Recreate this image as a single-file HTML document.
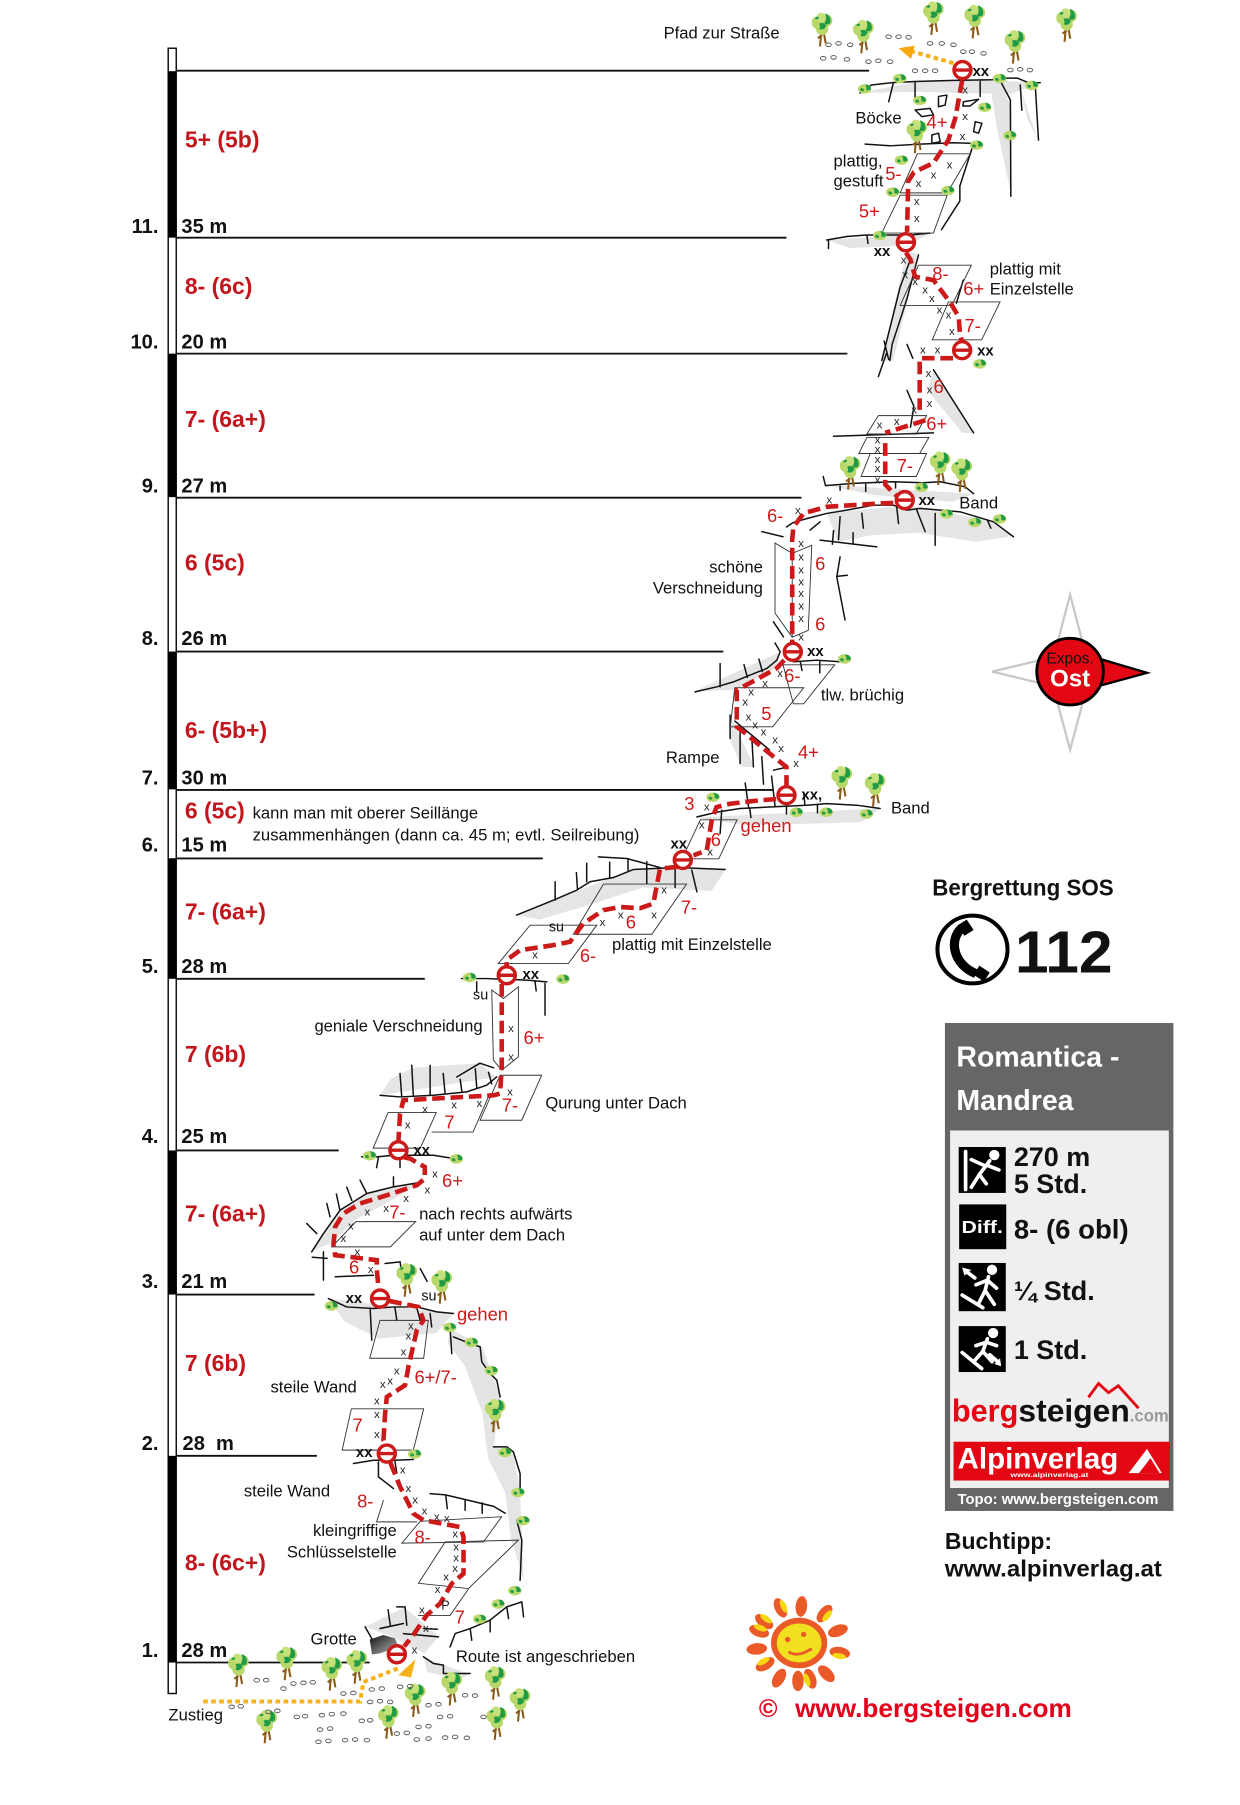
<!DOCTYPE html>
<html><head><meta charset="utf-8"><style>html,body{margin:0;padding:0;background:#fff;width:1240px;height:1805px;overflow:hidden}svg{display:block}</style></head>
<body>
<svg width="1240" height="1805" viewBox="0 0 1080 1572.1" preserveAspectRatio="none" xmlns="http://www.w3.org/2000/svg" font-family="Liberation Sans, Arial, sans-serif">
<defs>
<symbol id="tr" viewBox="0 0 20 34">
<path d="M9.5 16 L8 33 M11 16 L13.5 30 M10 22 L6 25" stroke="#8a5a1a" stroke-width="2" fill="none"/>
<circle cx="6" cy="10" r="6.2" fill="#b9d86a"/><circle cx="14" cy="8" r="6" fill="#b9d86a"/><circle cx="10" cy="16" r="6" fill="#b9d86a"/><circle cx="9" cy="5" r="4.5" fill="#c6e07a"/>
<path d="M13 1 q6 2 5 9 q-2 3 -6 1 q3 -4 1 -10z" fill="#1f9a45"/><path d="M7 11 q5 -2 7 2 q-2 5 -7 3 q2 -2 0 -5z" fill="#1f9a45"/><path d="M3 6 q2 -3 4 -1 q-1 3 -4 1z" fill="#1f9a45"/>
</symbol>
<symbol id="bu" viewBox="0 0 16 12">
<ellipse cx="7.5" cy="6.5" rx="7" ry="5" fill="#b9d86a"/><path d="M8 2 q6 0 6 5 q-3 2 -5 0 q1 -2 -1 -5z" fill="#1f9a45"/><path d="M3 6 q3 -1 4 2 q-2 2 -4 0z" fill="#1f9a45"/>
</symbol>
<symbol id="bel" viewBox="-10 -10 20 20"><circle r="7.4" fill="#fff" stroke="#cc1a1a" stroke-width="3"/><line x1="-7.4" x2="7.4" y1="0" y2="0" stroke="#cc1a1a" stroke-width="3"/></symbol>
<linearGradient id="cave" x1="0" y1="0" x2="1" y2="1"><stop offset="0" stop-color="#111"/><stop offset="1" stop-color="#bbb"/></linearGradient>
</defs>
<style>
.k{stroke:#111;stroke-width:1.3;fill:none;stroke-linejoin:round;stroke-linecap:round}
.p{stroke:#333;stroke-width:0.8;fill:none}
.rt{stroke:#cc1a1a;stroke-width:4;fill:none;stroke-dasharray:11 5}
.sh{fill:#dcdcdc;opacity:.75}
.pb{fill:none;stroke:#555;stroke-width:0.8}
.x{font-size:10px;fill:#222;text-anchor:middle}
.g{font-size:16px;fill:#cc1a1a}
.t{font-size:14.5px;fill:#111}
.xx{font-size:13px;font-weight:bold;fill:#111}
</style>

<!-- pillar -->
<rect x="146.5" y="42" width="7" height="1433" fill="#fff" stroke="#000" stroke-width="1.2"/>
<g fill="#000">
<rect x="146.5" y="62" width="7" height="145"/><rect x="146.5" y="308" width="7" height="125"/><rect x="146.5" y="567.5" width="7" height="120"/><rect x="146.5" y="747.5" width="7" height="105"/><rect x="146.5" y="1002" width="7" height="125.5"/><rect x="146.5" y="1268" width="7" height="180"/>
</g>
<g stroke="#111" stroke-width="1.6">
<line x1="153" y1="61.6" x2="757" y2="61.6"/><line x1="153" y1="207" x2="685" y2="207"/><line x1="153" y1="308" x2="738" y2="308"/><line x1="153" y1="433.5" x2="698" y2="433.5"/><line x1="153" y1="567.5" x2="630" y2="567.5"/><line x1="153" y1="688" x2="674" y2="688"/><line x1="153" y1="747.7" x2="472.7" y2="747.7"/><line x1="153" y1="852.5" x2="370" y2="852.5"/><line x1="153" y1="1002" x2="295" y2="1002"/><line x1="153" y1="1127.5" x2="274" y2="1127.5"/><line x1="153" y1="1268" x2="276" y2="1268"/><line x1="153" y1="1448" x2="322" y2="1448"/>
</g>
<g font-weight="bold" font-size="17.5" fill="#111">
<text x="138" y="203" text-anchor="end">11.</text><text x="158" y="203">35 m</text>
<text x="138" y="303.5" text-anchor="end">10.</text><text x="158" y="303.5">20 m</text>
<text x="138" y="429" text-anchor="end">9.</text><text x="158" y="429">27 m</text>
<text x="138" y="562" text-anchor="end">8.</text><text x="158" y="562">26 m</text>
<text x="138" y="683.5" text-anchor="end">7.</text><text x="158" y="683.5">30 m</text>
<text x="138" y="741.5" text-anchor="end">6.</text><text x="158" y="741.5">15 m</text>
<text x="138" y="847.5" text-anchor="end">5.</text><text x="158" y="847.5">28 m</text>
<text x="138" y="995.5" text-anchor="end">4.</text><text x="158" y="995.5">25 m</text>
<text x="138" y="1122" text-anchor="end">3.</text><text x="158" y="1122">21 m</text>
<text x="138" y="1263" text-anchor="end">2.</text><text x="159" y="1263" xml:space="preserve">28  m</text>
<text x="138" y="1443" text-anchor="end">1.</text><text x="158" y="1443">28 m</text>
</g>
<g font-weight="bold" font-size="20" fill="#c3161c">
<text x="161" y="128.5">5+ (5b)</text><text x="161" y="256">8- (6c)</text><text x="161" y="372">7- (6a+)</text><text x="161" y="497">6 (5c)</text><text x="161" y="643">6- (5b+)</text><text x="161" y="713">6 (5c)</text><text x="161" y="801">7- (6a+)</text><text x="161" y="925">7 (6b)</text><text x="161" y="1064">7- (6a+)</text><text x="161" y="1194">7 (6b)</text><text x="161" y="1368">8- (6c+)</text>
</g>
<text class="t" x="220" y="713">kann man mit oberer Seillänge</text>
<text class="t" x="220" y="732" textLength="337" lengthAdjust="spacingAndGlyphs">zusammenhängen (dann ca. 45 m; evtl. Seilreibung)</text>

<!-- shading -->
<g class="sh">
<polygon points="862,72 871,70 881,95 881,171 868,110"/><polygon points="888,75 904,122 895,104"/>
<polygon points="790,218 800,222 778,314 768,314"/><polygon points="813,322 848,377 838,377 808,340"/>
<polygon points="720,447 790,440 865,454 882,467 850,472 800,464 760,466 730,472"/>
<polygon points="717,422 848,430 830,437 760,431"/>
<polygon points="605,602 679,568 676,582 640,601"/>
<polygon points="636,623 657,668 646,668 636,645"/>
<polygon points="607,712 767,704 750,716 650,719"/>
<polygon points="450,797 551,757 632,757 620,776 560,773 520,786 470,801"/>
<polygon points="331,954 432,938 418,926 360,930 340,940"/>
<polygon points="271,1090 282,1074 296,1054 319,1040 343,1034 369,1029 340,1046 310,1062 290,1082"/>
<polygon points="286,1131 395,1144 380,1161 330,1166 300,1151"/>
<polygon points="392,1157 420,1173 436,1217 430,1260 447,1265 453,1298 456,1376 445,1340 440,1300 425,1270 420,1230 405,1190 390,1170"/>
<polygon points="318,1417 352,1400 382,1425 370,1440 340,1425"/>
<polygon points="369,1443 386,1450 409,1458 400,1463 372,1456"/>
<polygon points="749,81 797,71 864,70 906,72 880,82 800,80"/>
<polygon points="720,209 810,203 790,214 740,216"/>
</g>
<polygon points="322,1428 334,1424 344,1427 347,1434 340,1437 331,1440 324,1441" fill="url(#cave)"/>

<!-- rock lines -->
<g class="k">
<path d="M749,81 L759,74 L777,72 L797,71 L831,70 L864,69.5 L873,68 L886,68 L897,72.6 L906,72"/>
<path d="M778,72.6 L774,88.6 M797,71 L797,86 M853.7,71 L853.7,84 M871,70 L880,87 L880.4,171 M888.6,74 L890,96 M901.6,72.6 L904.5,122"/>
<path d="M817.4,84 L824.7,82.8 L823.2,91.5 L817.4,93Z M839.2,88.6 L852.3,86.5 L845,92.3 L838.6,92.3Z M797,95.8 L810,94.4 L813,100 L803,101.6Z M849.4,106 L855.2,107.4 L852.3,116 L848,114.7Z M811.6,117.6 L817.4,116 L818.9,123.4 L811.6,124.9Z"/>
<path d="M753.5,125.5 L775.3,127 L801.5,125.5 L830.5,124.3 L848,124.9 M848,125 L836,162 L836,175 L820,200"/>
<path d="M720,209 L737.6,206 L755,204.7 L792.7,204.7 L810,203 M721.6,209 L721.6,216.4 M755,204.7 L756,212"/>
<path d="M793,226 L784,250 L768,314 M800,222 L790,260 L777,300 L775,314 M839,244 L833,264 M770,297 L774,313 M772,308 L765,328 M790,300 L795,312"/>
<path d="M813,322 L848,377 M790,340 L796,354 L793,372 M726,380 L813,377"/>
<path d="M717,415 L719,423 L743,421 L778,419.6 L804,420.5 L819,419.6 L840.6,424 L848,430 M731.7,422 L731.7,427 M754,421 L754,428 M780,420 L780,425"/>
<path d="M663.5,463 L682,467.5 M685,459 L691,455 L703,451.6 L720,447.2 L737.5,444.3 L760.8,440 L778.2,440 L789.8,444.3 L801.4,442.8 L818.9,444.3 L836.3,445.8 L865.3,454.5 L882.7,467.5"/>
<path d="M731.7,450 L730.3,470 M750.6,447 L752,460 M781,441.4 L782.6,456 M798.5,444.3 L805.8,463 M814.5,447.2 L814.5,475 M860,453 L863,460 M705.6,461.7 L714.3,454.5 M714.3,470.4 L763.7,476.3 M726,462 L725,474 M743,464 L743,474 M731.7,485 L728.8,502.4 L736,540 M728.8,502 L738,501"/>
<path d="M673.6,541.6 L682.4,554.7 M605.4,602.6 L624.3,598.2 L638.8,593.9 L653.3,588 L667.9,582.2 L676.6,575 L679.5,567.7 M691,576.4 L711.4,575 L731.7,576.4 M627.2,578 L627.2,598.2 M648,579 L651,590 M661,574 L664,585 M675,560 L679.5,567.7 M697,576 L698.5,584 M714,575.5 L714,586"/>
<path d="M635.9,622.9 L635.9,643.2 M644.6,633 L644.6,665 M654.8,641.8 L656.2,668 M663.5,659 L665,683 M673.7,670.8 L686,668 M640,628 L670,653"/>
<path d="M607,711.5 L625.7,707.1 L644.6,704.2 L672.2,702.8 L702.7,701.3 L720,699.9 L746.2,701.3 L766.6,704.2 M653,704 L654,712 M685,702 L685,709 M712,701 L712,708 M649,682 L652,703 M672,676 L675,702 M700,690 L701,701 M628.6,705.6 L627.2,726"/>
<path d="M450,797 L482,784 L502.3,775.3 L514,768 L534.3,764.3 L551.7,757.3 L589.5,755.6 L631.6,757.3 M521.2,746.3 L545.9,747.7 L574.9,755.6 M483.5,768 L483.5,784 M502,760 L503,775 M511,752 L511,768 M531,751 L531,764 M547,748 L547,758 M563.3,750.6 L563.3,769.5 M588,756 L588,773 M602.5,757.9 L607,776.8"/>
<path d="M402,852.3 L424,852.3 L458.8,853.7 L476.2,855.2 M415.2,855.2 L415.2,864 M466,855 L467,863 M474.7,856.6 L474.7,884.2"/>
<path d="M331,954 L348.4,955.4 L377.5,953.9 L406.5,951 L423.9,945.2 L432.6,938 M397.8,938 L418,926 L430,930 M348.4,935 L349.9,955.4 M358.6,927.8 L360,954 M374.6,928 L374.6,954 M386,935 L387.6,952 M400.8,940 L402.3,951 M414,931 L415.2,947 M425.5,934 L428.3,944"/>
<path d="M315,1007.6 L328,1007.6 L342.6,1006.2 L377.5,1006.2 L394.9,1009 M329.6,1008 L328,1017 M348.4,1008 L348.4,1017"/>
<path d="M271.5,1090.3 L281.7,1074.4 L296.2,1054 L319.4,1039.5 L342.7,1033.7 L368.8,1029.4 M275.9,1074.4 L267.2,1065.7 M287.5,1059.8 L284.6,1048.2 M296,1054 L293,1040 M306.4,1045.5 L302,1034 M319.4,1039.5 L313.6,1027.9 M342.7,1033.7 L342.7,1025 M281.7,1090.3 L281.7,1115 M272,1095 L285,1096"/>
<path d="M291.9,1112 L325.3,1110.7 M335.4,1100.5 L348.5,1099.1 L350,1111 M366,1105 L372,1116"/>
<path d="M286,1131 L302,1138.3 L325.3,1139.7 L342.7,1138.3 L363,1138.3 L380.4,1142.6 L395,1144 M322.4,1139.7 L323.8,1167.3 M344,1139 L345.6,1150 M363,1139 L366,1150 M374.6,1144 L376,1155.7"/>
<path d="M392,1157 L393.5,1179 M395,1164.4 L409.5,1170.2 L418.2,1173.1 L419.6,1186.2 L426.9,1196.3 L432.7,1202.1 L435.6,1216.7 M429.8,1260.2 L441.4,1260.2 L447.2,1264.6 L453,1283.5 L453,1298 M450.1,1324 L454.5,1341.5 L453,1376.4"/>
<path d="M307.8,1274.7 L325.3,1271.8 L342.7,1271.8 L360,1271.2 M329.6,1273.3 L329.6,1286.3 L342.7,1296.5 M344,1273 L345.6,1283 M374.6,1300.9 L388,1302 L405,1306 L430,1312 L440,1318 M388.2,1302 L389.6,1314 M405.1,1306.7 L405.1,1315.4 M420,1309 L420,1318"/>
<path d="M318,1417 L323.8,1427.1 M331,1418.4 L351.4,1414 M345.6,1399.5 L352.8,1399.5 L354.3,1415.5 M351.4,1422.8 L381.9,1425.7 M368.8,1418.4 L381,1419 M338,1402 L340,1416"/>
<path d="M368.8,1443 L377.5,1448.9 L386.2,1450.3 L386.2,1457.6 L409.5,1457.6 M392,1434.4 L396.4,1422.8 L409.5,1418.4 L410.9,1428.6 M409.5,1418.4 L426.9,1411.1 L426.9,1421.3 M426.9,1411 L441.4,1399.5 L442.9,1409.7 M441.4,1399.5 L454.5,1395.2 L456,1408.2"/>
</g>

<!-- parallelograms -->
<g class="p">
<polygon points="799,134 845,134 825,168 784,168"/><polygon points="784,170 825,170 813,203 768,203"/>
<polygon points="800,231 846,231 829,266 784,266"/><polygon points="826,263 871,263 855,296 812,296"/>
<polygon points="765,362 807,362 798,378 755,378"/><polygon points="755,381 809,381 801,395 748,395"/><polygon points="758,395 807,395 798,415 750,415"/>
<polygon points="675,473 690,482 707,475 704,549 690,555 675,534"/><line x1="690" y1="482" x2="690" y2="555"/>
<polygon points="682,579 727,579 700,613 691,613"/><polygon points="640,599 700,599 673,633 636,633"/>
<polygon points="610,714 642,714 626,748 594,748"/>
<polygon points="525.6,770 598,770 567.7,813.7 499.4,813.7"/><polygon points="461.7,805.8 519.8,805.8 495,839.2 434,839.2"/>
<polygon points="428.3,862.4 438.4,869.7 451.5,859.5 451.5,920.5 437,932 429.7,923.4"/>
<polygon points="435.6,936.5 471.8,936.5 454.4,975.7 418.1,975.7"/><polygon points="338,969 380,969 366,1000 325,1000"/><polyline points="376,986 412,986 426,954"/>
<polygon points="310,1064 362,1064 340,1086 289,1086"/>
<polygon points="331,1150 373,1150 369,1183 322,1183"/><polygon points="306,1227 369,1227 360,1263 298,1263"/>
<polyline points="334,1306.6 328,1325.5 363,1325.5"/>
<polygon points="366,1325 437,1321 421,1343 350,1344"/><polygon points="387.7,1343 451.6,1341.4 408,1383.6 364.5,1379"/><polyline points="364,1407 392,1407 408,1384"/>
</g>

<!-- route -->
<g class="rt">
<polyline points="838,70 832,103 826,122 813,142 796,150 791,158 790,202"/>
<polyline points="789,220 793,226 797,241 813,244 828,264 835,276 836,290 838,298"/>
<polyline points="830,312 801,312 801,357"/>
<polyline points="806,366 771,377"/>
<polyline points="771,386 771,422 782,433"/>
<polyline points="778,438 766,438.5 720,441.4 700,447 691,459 690,470 690,560"/>
<polyline points="683,575 676.6,582 653,595 641.7,601 641.7,633 647,637 673.7,659 685,668 685,684"/>
<polyline points="676,696 662,697 636,700 624,703 620,714 615.6,740.5 604,745"/>
<polyline points="590,755 574.9,756.5 569,787 557.5,791 540,790 525.6,792.7 508,804.4 496.5,820.3 482,823.2 453,827.6 441,836.3 441.4,842"/>
<polyline points="437,857 437,929 435.6,952.5 429.7,954 351.3,958.3 348.4,970 347,994"/>
<polyline points="352,1008 357,1009 370,1016.4 370,1026.5 363,1032.3 337,1041 313.6,1048.2 299,1057 291.9,1068.6 290.4,1084.5 291.9,1093.2 328.2,1097.6 328.2,1106.3 329.6,1120.8 330,1123"/>
<polyline points="339,1133 342.7,1133.9 364.5,1138.3 368.8,1150 363,1158.6 355.7,1190.5 352.8,1206.5 336.9,1216.7 335.4,1231.2 334,1254.4 336,1258"/>
<polyline points="340,1274 342.7,1280.5 348.5,1295 354.3,1306.7 360,1318.3 368.8,1324 400.8,1330 403.7,1338.6 403.7,1370.6 393.5,1379.2 383.3,1396.6 371.7,1406.8 360,1424 352,1434"/>
</g>
<g stroke="#f5b21a" stroke-width="3.5" fill="none" stroke-dasharray="4 3">
<polyline points="830.5,55 795,45"/>
<polyline points="177,1482 313.6,1482 316.6,1465 347,1453"/>
</g>
<polygon points="782.6,42 796.7,39.7 793.5,51.3" fill="#f5a810"/>
<polygon points="347,1459 362,1445 358,1461" fill="#f5b21a"/>

<!-- belays -->
<g>
<use href="#bel" x="828.3" y="51" width="20" height="20"/><use href="#bel" x="779" y="201" width="20" height="20"/><use href="#bel" x="828" y="295" width="20" height="20"/><use href="#bel" x="778" y="425.6" width="20" height="20"/><use href="#bel" x="680.5" y="557.7" width="20" height="20"/><use href="#bel" x="675" y="682.6" width="20" height="20"/><use href="#bel" x="584.7" y="739" width="20" height="20"/><use href="#bel" x="431.4" y="839.4" width="20" height="20"/><use href="#bel" x="337" y="991.8" width="20" height="20"/><use href="#bel" x="321" y="1121" width="20" height="20"/><use href="#bel" x="326.9" y="1256" width="20" height="20"/><use href="#bel" x="335.6" y="1430.8" width="20" height="20"/>
</g>
<g class="xx">
<text x="847" y="66">xx</text><text x="761" y="223">xx</text><text x="851" y="309.5">xx</text><text x="800" y="440">xx</text><text x="703" y="571.5">xx</text><text x="698" y="696.5">xx,</text><text x="584" y="739">xx</text><text x="455" y="852.5">xx</text><text x="360" y="1006">xx</text><text x="301" y="1135">xx</text><text x="310" y="1269">xx</text>
</g>

<!-- x markers -->
<g class="x">
<text x="840.6" y="81.4">x</text><text x="840.6" y="104.6">x</text><text x="838.3" y="122">x</text><text x="827" y="146.7">x</text><text x="813" y="155.5">x</text><text x="800" y="162.7">x</text><text x="798.5" y="178.7">x</text><text x="798.5" y="193.2">x</text><text x="787" y="229.5">x</text><text x="788.4" y="242.6">x</text><text x="797" y="248.4">x</text><text x="805.8" y="255.6">x</text><text x="811.6" y="263">x</text><text x="818.3" y="273">x</text><text x="826.1" y="277.4">x</text><text x="829" y="292">x</text><text x="803.8" y="308">x</text><text x="816.5" y="308">x</text>
<text x="808.7" y="328.2">x</text><text x="809.6" y="342.8">x</text><text x="809.6" y="354.4">x</text><text x="796.2" y="360.2">x</text><text x="766" y="373.3">x</text><text x="781" y="370.3">x</text><text x="764.3" y="386.3">x</text><text x="764.3" y="394.5">x</text><text x="764.3" y="403.2">x</text><text x="764.3" y="411.3">x</text><text x="764.3" y="421.2">x</text><text x="722.4" y="438.6">x</text><text x="694.9" y="447.9">x</text>
<text x="697.8" y="476.3">x</text><text x="697.8" y="488">x</text><text x="697.8" y="499.6">x</text><text x="697.8" y="509.8">x</text><text x="697.8" y="519.9">x</text><text x="697.8" y="531">x</text><text x="697.8" y="541.7">x</text><text x="697.8" y="557.7">x</text>
<text x="679.5" y="589.6">x</text><text x="666.4" y="598.3">x</text><text x="654.2" y="605.6">x</text><text x="649" y="614.3">x</text><text x="651.9" y="627.4">x</text><text x="657.7" y="634.6">x</text><text x="665" y="640.4">x</text><text x="675.1" y="647.7">x</text><text x="680.3" y="655">x</text><text x="693.4" y="668">x</text><text x="615.6" y="705.8">x</text>
<text x="611.2" y="721.7">x</text><text x="618.5" y="745">x</text><text x="578.4" y="778.3">x</text><text x="569.7" y="800.1">x</text><text x="540.7" y="800.1">x</text><text x="524.7" y="806.5">x</text><text x="466" y="835">x</text><text x="445.1" y="898.8">x</text><text x="445.1" y="923.5">x</text><text x="444.2" y="954">x</text><text x="417.5" y="964.2">x</text><text x="395.5" y="965.6">x</text><text x="370.2" y="969.4">x</text><text x="355.1" y="983">x</text><text x="378.9" y="1025.7">x</text><text x="372.2" y="1039.7">x</text><text x="353.7" y="1046.9">x</text><text x="336.3" y="1055.6">x</text><text x="320" y="1058.5">x</text><text x="305.5" y="1071">x</text><text x="299.1" y="1081.7">x</text><text x="311.3" y="1093.3">x</text><text x="322.9" y="1108.7">x</text>
<text x="357.8" y="1158.1">x</text><text x="355.7" y="1166.8">x</text><text x="351.4" y="1180.5">x</text><text x="345.6" y="1197">x</text><text x="339.8" y="1206">x</text><text x="333.4" y="1208.9">x</text><text x="328.2" y="1223.1">x</text><text x="328.2" y="1235">x</text><text x="328.2" y="1252.5">x</text><text x="350.8" y="1283.5">x</text><text x="355.7" y="1299.5">x</text><text x="361.6" y="1309.7">x</text><text x="369.7" y="1319.3">x</text><text x="380.4" y="1324.2">x</text><text x="389.1" y="1325.6">x</text><text x="396.4" y="1339.3">x</text><text x="397.3" y="1350.3">x</text><text x="397.3" y="1359.9">x</text><text x="396.4" y="1369.2">x</text><text x="388.6" y="1376.4">x</text><text x="381" y="1387.4">x</text><text x="367.4" y="1405.4">x</text><text x="370.9" y="1421.4">x</text><text x="361" y="1440.3">x</text>
<text x="388" y="1402" font-size="11">P</text>
</g>

<!-- red route grades -->
<g class="g">
<text x="807" y="112">4+</text><text x="771" y="157">5-</text><text x="748" y="189.5">5+</text><text x="812" y="244">8-</text><text x="839" y="257">6+</text><text x="840" y="289">7-</text><text x="813" y="342.5">6</text><text x="806.7" y="374.6">6+</text><text x="781" y="411">7-</text><text x="668" y="454.5">6-</text><text x="710" y="496.6">6</text><text x="710" y="549">6</text><text x="683" y="594">6-</text><text x="663" y="627.3">5</text><text x="695" y="660.6">4+</text><text x="596" y="705.6">3</text><text x="645" y="724.5">gehen</text><text x="619" y="737">6</text><text x="593" y="795.6">7-</text><text x="545" y="808.7">6</text><text x="505" y="837.8">6-</text><text x="456" y="909.5">6+</text><text x="437" y="968">7-</text><text x="387" y="983">7</text><text x="385" y="1033.8">6+</text><text x="339" y="1061.3">7-</text><text x="304" y="1109.2">6</text><text x="398" y="1150">gehen</text><text x="361" y="1205">6+/7-</text><text x="307" y="1247">7</text><text x="311" y="1313">8-</text><text x="361" y="1344.4">8-</text><text x="396" y="1414">7</text>
</g>

<!-- labels -->
<g class="t">
<text x="578" y="33.4" textLength="101" lengthAdjust="spacingAndGlyphs">Pfad zur Straße</text>
<text x="745" y="107.4">Böcke</text>
<text x="726" y="145.2">plattig,</text><text x="726" y="162.6">gestuft</text>
<text x="862" y="239">plattig mit</text><text x="862" y="256.5">Einzelstelle</text>
<text x="835.5" y="443">Band</text>
<text x="664.4" y="498.5" text-anchor="end">schöne</text><text x="664.4" y="517" text-anchor="end">Verschneidung</text>
<text x="715" y="610">tlw. brüchig</text>
<text x="580" y="664.5">Rampe</text>
<text x="776" y="708.5">Band</text>
<text x="533" y="827.5">plattig mit Einzelstelle</text>
<text x="420.4" y="898.5" text-anchor="end">geniale Verschneidung</text>
<text x="475" y="965.5">Qurung unter Dach</text>
<text x="365" y="1062">nach rechts aufwärts</text><text x="365" y="1080.5">auf unter dem Dach</text>
<text x="310.7" y="1213" text-anchor="end">steile Wand</text>
<text x="287.5" y="1303.5" text-anchor="end">steile Wand</text>
<text x="345.6" y="1338" text-anchor="end">kleingriffige</text><text x="345.6" y="1356.5" text-anchor="end">Schlüsselstelle</text>
<text x="310.7" y="1432.5" text-anchor="end">Grotte</text>
<text x="397" y="1447.5">Route ist angeschrieben</text>
<text x="146.7" y="1498.5">Zustieg</text>
<text x="478" y="811.5" font-size="12.5">su</text><text x="412" y="870.5" font-size="12.5">su</text><text x="367" y="1132.5" font-size="12.5">su</text>
</g>

<!-- trees -->
<g>
<use href="#tr" x="707" y="10" width="18" height="32"/><use href="#tr" x="743" y="16" width="18" height="32"/><use href="#tr" x="804" y="0" width="18" height="32"/><use href="#tr" x="840" y="3" width="18" height="32"/><use href="#tr" x="875" y="25" width="18" height="32"/><use href="#tr" x="920" y="6" width="18" height="32"/><use href="#tr" x="789.6" y="103" width="18" height="32"/>
<use href="#tr" x="731.5" y="396" width="18" height="32"/><use href="#tr" x="809.9" y="392" width="18" height="32"/><use href="#tr" x="828.7" y="398" width="18" height="32"/><use href="#tr" x="724.2" y="666" width="18" height="32"/><use href="#tr" x="753.2" y="672" width="18" height="32"/><use href="#tr" x="345.3" y="1099" width="18" height="32"/><use href="#tr" x="375.8" y="1105" width="18" height="32"/><use href="#tr" x="422.3" y="1217" width="18" height="32"/>
<use href="#tr" x="198.7" y="1439" width="18" height="32"/><use href="#tr" x="240.8" y="1433" width="18" height="32"/><use href="#tr" x="280" y="1442" width="18" height="32"/><use href="#tr" x="301.7" y="1436" width="18" height="32"/><use href="#tr" x="223.3" y="1488" width="18" height="32"/><use href="#tr" x="329.3" y="1484" width="18" height="32"/><use href="#tr" x="352.6" y="1465" width="18" height="32"/><use href="#tr" x="384.5" y="1455" width="18" height="32"/><use href="#tr" x="422.3" y="1450" width="18" height="32"/><use href="#tr" x="444" y="1469" width="18" height="32"/><use href="#tr" x="423.7" y="1485" width="18" height="32"/>
</g>
<g>
<use href="#bu" x="746.5" y="72" width="14" height="10"/><use href="#bu" x="777" y="63" width="14" height="10"/><use href="#bu" x="794.5" y="82" width="14" height="10"/><use href="#bu" x="851" y="88" width="14" height="10"/><use href="#bu" x="864" y="63" width="14" height="10"/><use href="#bu" x="892" y="69" width="14" height="10"/><use href="#bu" x="873" y="112.6" width="14" height="10"/><use href="#bu" x="844" y="121" width="14" height="10"/><use href="#bu" x="778.5" y="134" width="14" height="10"/><use href="#bu" x="771" y="162" width="14" height="10"/><use href="#bu" x="819" y="160.5" width="14" height="10"/><use href="#bu" x="759.6" y="199.7" width="14" height="10"/>
<use href="#bu" x="846.7" y="311.5" width="14" height="10"/><use href="#bu" x="796" y="419" width="14" height="10"/><use href="#bu" x="817.7" y="442.2" width="14" height="10"/><use href="#bu" x="842.4" y="449.5" width="14" height="10"/><use href="#bu" x="864" y="446.6" width="14" height="10"/><use href="#bu" x="729" y="568.5" width="14" height="10"/><use href="#bu" x="614.4" y="689" width="14" height="10"/><use href="#bu" x="687" y="702" width="14" height="10"/><use href="#bu" x="713" y="702" width="14" height="10"/><use href="#bu" x="748" y="703.6" width="14" height="10"/>
<use href="#bu" x="402.4" y="845.8" width="14" height="10"/><use href="#bu" x="483.7" y="847.3" width="14" height="10"/><use href="#bu" x="315.3" y="1001.2" width="14" height="10"/><use href="#bu" x="390.8" y="1004" width="14" height="10"/><use href="#bu" x="282" y="1132" width="14" height="10"/><use href="#bu" x="385" y="1150.7" width="14" height="10"/><use href="#bu" x="404" y="1163.7" width="14" height="10"/><use href="#bu" x="421.3" y="1188.4" width="14" height="10"/><use href="#bu" x="433" y="1259.6" width="14" height="10"/><use href="#bu" x="444.6" y="1294.4" width="14" height="10"/><use href="#bu" x="449" y="1319" width="14" height="10"/><use href="#bu" x="354.6" y="1261" width="14" height="10"/><use href="#bu" x="441.7" y="1380" width="14" height="10"/><use href="#bu" x="427.2" y="1391.6" width="14" height="10"/><use href="#bu" x="411.2" y="1404.7" width="14" height="10"/>
</g>

<!-- pebbles -->
<g class="pb">
<ellipse cx="721.6" cy="39" rx="2.4" ry="1.6"/><ellipse cx="730.3" cy="37.8" rx="2.4" ry="1.6"/><ellipse cx="740.5" cy="39" rx="2.4" ry="1.6"/><ellipse cx="717" cy="50.8" rx="2.4" ry="1.6"/><ellipse cx="726" cy="50" rx="2.4" ry="1.6"/><ellipse cx="737.6" cy="51.7" rx="2.4" ry="1.6"/><ellipse cx="756.4" cy="53.7" rx="2.4" ry="1.6"/><ellipse cx="765" cy="52.9" rx="2.4" ry="1.6"/><ellipse cx="775.3" cy="53.7" rx="2.4" ry="1.6"/><ellipse cx="773.9" cy="32" rx="2.4" ry="1.6"/><ellipse cx="782.6" cy="32" rx="2.4" ry="1.6"/><ellipse cx="791.3" cy="32.5" rx="2.4" ry="1.6"/><ellipse cx="810" cy="37.8" rx="2.4" ry="1.6"/><ellipse cx="820.3" cy="37.8" rx="2.4" ry="1.6"/><ellipse cx="830.5" cy="39" rx="2.4" ry="1.6"/><ellipse cx="839" cy="45" rx="2.4" ry="1.6"/><ellipse cx="846.5" cy="45" rx="2.4" ry="1.6"/><ellipse cx="856.6" cy="46.5" rx="2.4" ry="1.6"/><ellipse cx="797" cy="61.6" rx="2.4" ry="1.6"/><ellipse cx="805.8" cy="61.6" rx="2.4" ry="1.6"/><ellipse cx="814.5" cy="61.6" rx="2.4" ry="1.6"/><ellipse cx="880" cy="61" rx="2.4" ry="1.6"/><ellipse cx="888.6" cy="60.4" rx="2.4" ry="1.6"/><ellipse cx="897" cy="61" rx="2.4" ry="1.6"/>
<ellipse cx="223.6" cy="1463.4" rx="2.4" ry="1.6"/><ellipse cx="231.8" cy="1463.4" rx="2.4" ry="1.6"/><ellipse cx="246.9" cy="1470.7" rx="2.4" ry="1.6"/><ellipse cx="255.6" cy="1466.3" rx="2.4" ry="1.6"/><ellipse cx="264.3" cy="1465.7" rx="2.4" ry="1.6"/><ellipse cx="272.4" cy="1465.2" rx="2.4" ry="1.6"/><ellipse cx="201.8" cy="1486.6" rx="2.4" ry="1.6"/><ellipse cx="209.7" cy="1486.1" rx="2.4" ry="1.6"/><ellipse cx="233.8" cy="1491" rx="2.4" ry="1.6"/><ellipse cx="241.6" cy="1490.1" rx="2.4" ry="1.6"/><ellipse cx="258.5" cy="1495.4" rx="2.4" ry="1.6"/><ellipse cx="265.7" cy="1494.8" rx="2.4" ry="1.6"/><ellipse cx="280.3" cy="1493.9" rx="2.4" ry="1.6"/><ellipse cx="289" cy="1493" rx="2.4" ry="1.6"/><ellipse cx="299.1" cy="1492.5" rx="2.4" ry="1.6"/><ellipse cx="278.8" cy="1506.4" rx="2.4" ry="1.6"/><ellipse cx="287.5" cy="1505.5" rx="2.4" ry="1.6"/><ellipse cx="277.4" cy="1517.1" rx="2.4" ry="1.6"/><ellipse cx="286" cy="1516.3" rx="2.4" ry="1.6"/><ellipse cx="300.6" cy="1515.7" rx="2.4" ry="1.6"/><ellipse cx="309.3" cy="1515.1" rx="2.4" ry="1.6"/><ellipse cx="319.5" cy="1515.7" rx="2.4" ry="1.6"/><ellipse cx="299.1" cy="1475" rx="2.4" ry="1.6"/><ellipse cx="307.8" cy="1474.5" rx="2.4" ry="1.6"/><ellipse cx="323.8" cy="1471.5" rx="2.4" ry="1.6"/><ellipse cx="332.5" cy="1470.7" rx="2.4" ry="1.6"/><ellipse cx="322.4" cy="1482.3" rx="2.4" ry="1.6"/><ellipse cx="331" cy="1481.7" rx="2.4" ry="1.6"/><ellipse cx="339.8" cy="1482.3" rx="2.4" ry="1.6"/><ellipse cx="348.5" cy="1469.2" rx="2.4" ry="1.6"/><ellipse cx="357.2" cy="1468.6" rx="2.4" ry="1.6"/><ellipse cx="373.2" cy="1485.2" rx="2.4" ry="1.6"/><ellipse cx="381.9" cy="1484.3" rx="2.4" ry="1.6"/><ellipse cx="405.1" cy="1476.5" rx="2.4" ry="1.6"/><ellipse cx="413.8" cy="1476.8" rx="2.4" ry="1.6"/><ellipse cx="315.1" cy="1498.8" rx="2.4" ry="1.6"/><ellipse cx="322.4" cy="1498.3" rx="2.4" ry="1.6"/><ellipse cx="345.6" cy="1509.9" rx="2.4" ry="1.6"/><ellipse cx="354.3" cy="1509.3" rx="2.4" ry="1.6"/><ellipse cx="364.5" cy="1504.1" rx="2.4" ry="1.6"/><ellipse cx="373.2" cy="1503.5" rx="2.4" ry="1.6"/><ellipse cx="363" cy="1515.1" rx="2.4" ry="1.6"/><ellipse cx="373.2" cy="1514.2" rx="2.4" ry="1.6"/><ellipse cx="387.7" cy="1513.4" rx="2.4" ry="1.6"/><ellipse cx="396.4" cy="1512.8" rx="2.4" ry="1.6"/><ellipse cx="406.6" cy="1513.6" rx="2.4" ry="1.6"/><ellipse cx="383.3" cy="1495.4" rx="2.4" ry="1.6"/><ellipse cx="392" cy="1494.8" rx="2.4" ry="1.6"/><ellipse cx="421.1" cy="1495.4" rx="2.4" ry="1.6"/>
</g>

<!-- compass -->
<g stroke="#c8c8c8" stroke-width="2" fill="#fff">
<polygon points="932,518 943,560 921,560"/><polygon points="932,653 943,612 921,612"/><polygon points="864,585 906,575 906,595"/>
</g>
<polygon points="955,573 999,586 955,598" fill="#e30613" stroke="#000" stroke-width="2"/>
<circle cx="932" cy="585" r="29" fill="#e30613" stroke="#000" stroke-width="2.5"/>
<text x="932" y="578" text-anchor="middle" font-size="13.5" fill="#111">Expos.</text>
<text x="932" y="598" text-anchor="middle" font-size="21" font-weight="bold" fill="#fff">Ost</text>

<!-- SOS -->
<text x="812" y="780" font-size="20" font-weight="bold" fill="#111" textLength="158" lengthAdjust="spacingAndGlyphs">Bergrettung SOS</text>
<ellipse cx="847" cy="827" rx="30.5" ry="29.5" fill="none" stroke="#000" stroke-width="3.5"/>
<path d="M838,808 C826,818 830,840 850,848" stroke="#000" stroke-width="8" fill="none"/>
<path d="M834,806 L842,801 L848,810 L840,815Z M848,849 L853,841 L862,847 L857,855Z" fill="#000"/>
<text x="884" y="847" font-size="52" font-weight="bold" fill="#111" textLength="85" lengthAdjust="spacingAndGlyphs">112</text>

<!-- info box -->
<rect x="823" y="891" width="199" height="425" fill="#666"/>
<rect x="827.5" y="984.6" width="190.5" height="311.4" fill="#efefef"/>
<text x="833" y="929" font-size="25" font-weight="bold" fill="#fff" textLength="142" lengthAdjust="spacingAndGlyphs">Romantica -</text>
<text x="833" y="966.7" font-size="25" font-weight="bold" fill="#fff" textLength="102" lengthAdjust="spacingAndGlyphs">Mandrea</text>
<rect x="835" y="999" width="41" height="40" fill="#000"/>
<g stroke="#fff" stroke-width="3.2" fill="none" stroke-linecap="round"><path d="M841,1003 L841,1036"/><path d="M862,1011 L853,1023 L859,1031 M853,1023 L846,1034 M860,1015 L870,1019 M857,1015 L846,1010"/></g>
<circle cx="866" cy="1006" r="4.5" fill="#fff"/>
<rect x="835.4" y="1049" width="41" height="39" fill="#000"/>
<text x="837.5" y="1074" font-size="15.5" font-weight="bold" fill="#fff" textLength="36" lengthAdjust="spacingAndGlyphs">Diff.</text>
<rect x="835" y="1100" width="41" height="42" fill="#000"/>
<g stroke="#fff" stroke-width="3.2" fill="none" stroke-linecap="round"><path d="M861,1112 L858,1124 L852,1136 M858,1124 L866,1136 M860,1115 L868,1122 M860,1115 L850,1119 M849,1113 L841,1107 M838,1128 L856,1139"/></g>
<path d="M838,1104 L846,1106 L840,1111Z" fill="#fff"/><circle cx="864" cy="1106" r="4.5" fill="#fff"/>
<rect x="835" y="1155" width="41" height="40" fill="#000"/>
<g stroke="#fff" stroke-width="3.2" fill="none" stroke-linecap="round"><path d="M860,1166 L856,1177 L848,1186 M856,1177 L864,1186 M859,1169 L868,1172 M859,1169 L850,1172 M862,1180 L869,1186 M838,1178 L855,1192"/></g>
<path d="M872,1190 L866,1188 L871,1183Z" fill="#fff"/><circle cx="865" cy="1161" r="4.5" fill="#fff"/>
<g font-size="23.5" font-weight="bold" fill="#111">
<text x="883" y="1015.7">270 m</text><text x="883" y="1039">5 Std.</text><text x="883" y="1078.7" textLength="100" lengthAdjust="spacingAndGlyphs">8- (6 obl)</text><text x="883" y="1132.4">¼ Std.</text><text x="883" y="1183.7">1 Std.</text>
</g>
<polyline points="948,1217 956.8,1205 965.5,1213 974,1207 991.6,1226.5" fill="none" stroke="#e30613" stroke-width="2.5"/>
<text x="829" y="1238" font-size="27.5" font-weight="bold" fill="#e30613" textLength="58" lengthAdjust="spacingAndGlyphs">berg</text>
<text x="887" y="1238" font-size="27.5" font-weight="bold" fill="#111" textLength="97" lengthAdjust="spacingAndGlyphs">steigen</text>
<text x="984" y="1238" font-size="15" font-weight="bold" fill="#999" textLength="34" lengthAdjust="spacingAndGlyphs">.com</text>
<rect x="830.5" y="1255.7" width="188.5" height="33.8" fill="#e30613"/>
<text x="834" y="1279" font-size="25.5" font-weight="bold" fill="#fff" textLength="140" lengthAdjust="spacingAndGlyphs">Alpinverlag</text>
<text x="880" y="1286.5" font-size="5.5" font-weight="bold" fill="#fff" textLength="68" lengthAdjust="spacingAndGlyphs">www.alpinverlag.at</text>
<polygon points="983,1283 999,1262 1012,1283" fill="#fff"/><polygon points="992,1283 1002,1270 1010,1283" fill="#e30613"/>
<text x="834" y="1310" font-size="12.5" font-weight="bold" fill="#fff" textLength="175" lengthAdjust="spacingAndGlyphs">Topo: www.bergsteigen.com</text>
<text x="823" y="1349" font-size="20" font-weight="bold" fill="#111">Buchtipp:</text>
<text x="823" y="1373" font-size="20" font-weight="bold" fill="#111" textLength="189" lengthAdjust="spacingAndGlyphs">www.alpinverlag.at</text>

<!-- sun -->
<g fill="#ea5a28">
<g transform="translate(695,1433)">
<ellipse rx="5" ry="9" transform="rotate(-55) translate(0,-36)"/><ellipse rx="5" ry="9" transform="rotate(-25) translate(0,-36)"/><ellipse rx="5" ry="9" transform="rotate(5) translate(0,-34)"/><ellipse rx="5" ry="9" transform="rotate(40) translate(0,-36)"/><ellipse rx="5" ry="9" transform="rotate(70) translate(0,-37)"/><ellipse rx="5" ry="9" transform="rotate(100) translate(0,-37)"/><ellipse rx="5" ry="9" transform="rotate(135) translate(0,-35)"/><ellipse rx="5" ry="9" transform="rotate(160) translate(0,-31)"/><ellipse rx="5" ry="9" transform="rotate(180) translate(0,-31)"/><ellipse rx="5" ry="9" transform="rotate(210) translate(0,-33)"/><ellipse rx="5" ry="9" transform="rotate(240) translate(0,-33)"/><ellipse rx="5" ry="9" transform="rotate(265) translate(0,-36)"/><ellipse rx="5" ry="9" transform="rotate(290) translate(0,-36)"/>
</g></g>
<g fill="#f5d810">
<g transform="translate(695,1433)">
<ellipse rx="2.5" ry="6" transform="rotate(-55) translate(3,-36)"/><ellipse rx="2.5" ry="6" transform="rotate(-25) translate(3,-36)"/><ellipse rx="2.5" ry="6" transform="rotate(40) translate(3,-36)"/><ellipse rx="2.5" ry="6" transform="rotate(100) translate(3,-37)"/><ellipse rx="2.5" ry="6" transform="rotate(160) translate(3,-31)"/><ellipse rx="2.5" ry="6" transform="rotate(240) translate(3,-33)"/><ellipse rx="2.5" ry="6" transform="rotate(290) translate(3,-36)"/>
</g></g>
<ellipse cx="696" cy="1431" rx="22" ry="19.5" fill="#f0e020" stroke="#ea5a28" stroke-width="5"/>
<circle cx="686" cy="1428" r="2.3" fill="#ea5a28"/><circle cx="700" cy="1423.5" r="2.3" fill="#ea5a28"/>
<path d="M686.7,1438.7 Q695,1444 707,1435.8" stroke="#ea5a28" stroke-width="2.5" fill="none"/>
<text x="661" y="1495.4" font-size="22" font-weight="bold" fill="#e2001a">©</text>
<text x="692.5" y="1495.4" font-size="22.7" font-weight="bold" fill="#e2001a" textLength="241" lengthAdjust="spacingAndGlyphs">www.bergsteigen.com</text>
</svg>
</body></html>
